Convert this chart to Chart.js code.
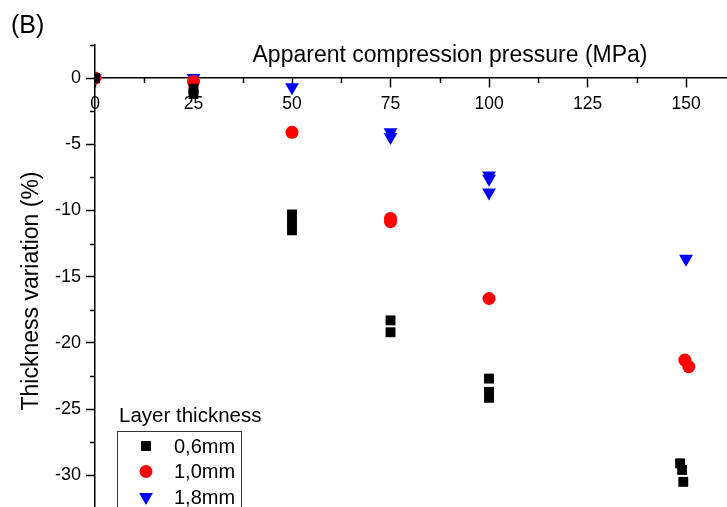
<!DOCTYPE html>
<html>
<head>
<meta charset="utf-8">
<script src="https://cdn.jsdelivr.net/npm/chart.js@4.4.0/dist/chart.umd.min.js"></script>
<style>
  html, body { margin: 0; padding: 0; background: #fff; }
  canvas { display: block; }
</style>
</head>
<body>
<canvas id="chart" width="727" height="507"></canvas>
<script>
// values
const pressure06 = [0, 25, 25, 50, 50, 50, 75, 75, 100, 100, 100, 148.5, 149, 149.3];
const thickness06 = [0, -0.8, -1.2, -10.3, -10.9, -11.5, -18.3, -19.2, -22.7, -23.7, -24.15, -29.1, -29.6, -30.5];

const pressure10 = [0, 25, 50, 75, 75, 100, 149.7, 150.7];
const thickness10 = [0, -0.25, -4.1, -10.6, -10.85, -16.65, -21.3, -21.8];

const pressure18 = [0, 25, 50, 75, 75, 100, 100, 100, 150];
const thickness18 = [0, 0, -0.7, -4.1, -4.45, -7.35, -7.6, -8.65, -13.65];

const seriesLabels = ['0,6mm', '1,0mm', '1,8mm'];
const xTicks = [0, 25, 50, 75, 100, 125, 150];
const xMinorTicks = [12.5, 37.5, 62.5, 87.5, 112.5, 137.5];
const yTicks = [0, -5, -10, -15, -20, -25, -30];
const yMinorTicks = [2.5, -2.5, -7.5, -12.5, -17.5, -22.5, -27.5];

const FONT = 'Liberation Sans, Arial, sans-serif';

function toPoints(xs, ys) {
    return xs.map((x, i) => ({ x: x, y: ys[i] }));
}

const extras = {
    id: 'extras',
    afterDraw(chart) {
        const ctx = chart.ctx;
        const xs = chart.scales.x;
        const ys = chart.scales.y;
        const y0 = ys.getPixelForValue(0);
        const left = chart.chartArea.left;

        ctx.save();
        // minor ticks
        ctx.strokeStyle = '#000';
        ctx.lineWidth = 1.5;
        ctx.beginPath();
        xMinorTicks.forEach(v => {
            const px = Math.round(xs.getPixelForValue(v)) + 0.5;
            ctx.moveTo(px, y0);
            ctx.lineTo(px, y0 + 5);
        });
        yMinorTicks.forEach(v => {
            const py = Math.round(ys.getPixelForValue(v)) + 0.5;
            ctx.moveTo(left, py);
            ctx.lineTo(left - 5, py);
        });
        ctx.stroke();

        // titles
        ctx.fillStyle = '#000';
        ctx.font = '23px ' + FONT;
        ctx.textAlign = 'center';
        ctx.textBaseline = 'alphabetic';
        ctx.fillText('Apparent compression pressure (MPa)', 450, 62);

        ctx.save();
        ctx.translate(38, 291);
        ctx.rotate(-Math.PI / 2);
        ctx.fillText('Thickness variation (%)', 0, 0);
        ctx.restore();

        ctx.textAlign = 'left';
        ctx.font = '25px ' + FONT;
        ctx.fillText('(B)', 11, 33);

        // legend
        ctx.font = '20.5px ' + FONT;
        ctx.fillText('Layer thickness', 119, 422);
        ctx.lineWidth = 1;
        ctx.strokeStyle = '#333';
        ctx.strokeRect(117.5, 431.5, 124, 90);

        ctx.font = '20px ' + FONT;
        ctx.textBaseline = 'middle';
        chart.data.datasets.forEach((ds, i) => {
            const cy = 446 + i * 25.5;
            ctx.fillStyle = ds.backgroundColor;
            Chart.helpers.drawPoint(ctx, {
                pointStyle: ds.pointStyle,
                radius: ds.pointRadius,
                rotation: ds.rotation || 0,
                borderWidth: 0
            }, 146, cy);
            ctx.fillStyle = '#000';
            ctx.fillText(ds.label, 174, cy + 1);
        });
        ctx.restore();
    }
};

new Chart(document.getElementById('chart'), {
    type: 'scatter',
    data: {
        datasets: [
            {
                label: seriesLabels[0],
                data: toPoints(pressure06, thickness06),
                pointStyle: 'rect',
                pointRadius: 7,
                backgroundColor: '#000000',
                borderWidth: 0,
                clip: 0
            },
            {
                label: seriesLabels[1],
                data: toPoints(pressure10, thickness10),
                pointStyle: 'circle',
                pointRadius: 6.5,
                backgroundColor: '#ff0000',
                borderWidth: 0,
                clip: 0
            },
            {
                label: seriesLabels[2],
                data: toPoints(pressure18, thickness18),
                pointStyle: 'triangle',
                pointRadius: 8,
                rotation: 180,
                backgroundColor: '#0000ff',
                borderWidth: 0,
                clip: 0
            }
        ]
    },
    options: {
        responsive: false,
        animation: false,
        devicePixelRatio: 1,
        layout: { autoPadding: false, padding: { top: 45, left: 0, right: 0, bottom: 0 } },
        plugins: {
            legend: { display: false },
            tooltip: { enabled: false }
        },
        scales: {
            x: {
                type: 'linear',
                position: { y: 0 },
                min: 0,
                max: 160.4,
                ticks: {
                    stepSize: 25,
                    includeBounds: false,
                    autoSkip: false,
                    maxRotation: 0,
                    padding: 7,
                    color: '#000',
                    font: { family: FONT, size: 17.5 },
                    callback: v => xTicks.includes(v) ? String(v) : ''
                },
                grid: {
                    drawOnChartArea: false,
                    tickLength: 9,
                    tickWidth: 1.5,
                    tickColor: '#000'
                },
                border: { color: '#000', width: 1.5 },
                afterFit: s => {
                    s.height = 0;
                    s.paddingLeft = 0;
                    s.paddingRight = 0;
                }
            },
            y: {
                type: 'linear',
                position: 'left',
                min: -32.4,
                max: 2.5,
                ticks: {
                    stepSize: 5,
                    includeBounds: false,
                    autoSkip: false,
                    padding: 5,
                    color: '#000',
                    font: { family: FONT, size: 18 },
                    callback: v => yTicks.includes(v) ? String(v) : ''
                },
                grid: {
                    drawOnChartArea: false,
                    tickLength: 9,
                    tickWidth: 1.5,
                    tickColor: '#000'
                },
                border: { color: '#000', width: 1.5 },
                afterFit: s => {
                    s.width = 95;
                    s.paddingTop = 0;
                    s.paddingBottom = 0;
                }
            }
        }
    },
    plugins: [extras]
});
</script>
</body>
</html>
